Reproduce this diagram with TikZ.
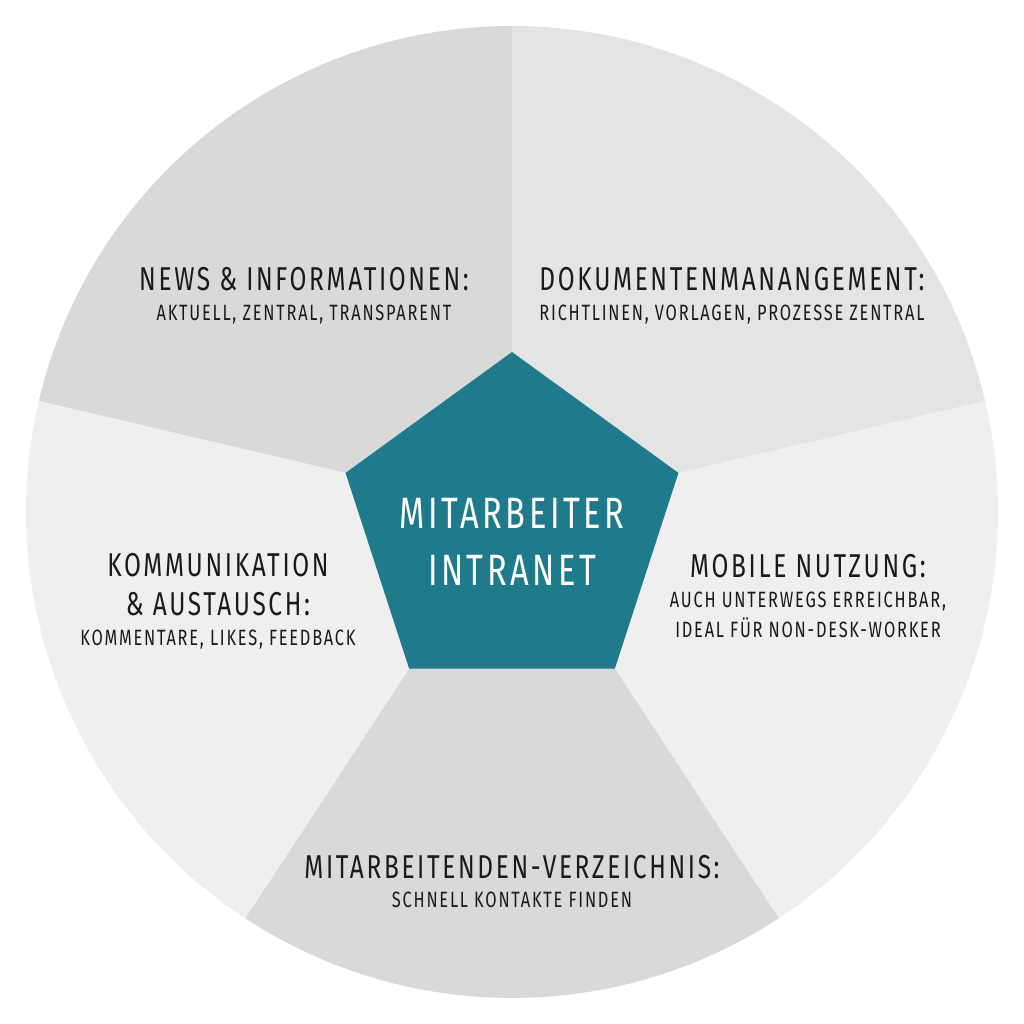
\documentclass[tikz,border=0pt]{standalone}
\usepackage{fontspec}
\usepackage{tikz}
\usetikzlibrary{shapes.geometric, calc}

\newfontfamily\labelfont[FakeStretch=0.74, LetterSpace=8]{Fira Sans}

\definecolor{sliceDark}{HTML}{D9D9D9}
\definecolor{sliceMid}{HTML}{E4E4E4}
\definecolor{sliceLight}{HTML}{EFEFEF}
\definecolor{hubTeal}{HTML}{1F7A8C}
\definecolor{inkText}{HTML}{1A1A1A}

\tikzset{
	topic/.style = {align=center, text=inkText, inner sep=0pt,
		font=\labelfont\fontsize{9.4}{11}\selectfont},
	hub/.style = {regular polygon, regular polygon sides=5, minimum size=3.5cm,
		inner sep=0pt, fill=hubTeal},
	hubtext/.style = {align=center, text=white, inner sep=0pt,
		font=\labelfont\fontsize{12.5}{16.2}\selectfont}
}

\newcommand{\subsize}{\fontsize{6.3}{8}\selectfont}

\begin{document}
\begin{tikzpicture}
\useasboundingbox (-5.12, -5.12) rectangle (5.12, 5.12);

% slices
\fill[color = sliceDark]
	(0, 0) -- (90:4.86) arc[start angle=90, end angle=166.8, radius=4.86] -- cycle;
\fill[color = sliceMid]
	(0, 0) -- (13.2:4.86) arc[start angle=13.2, end angle=90, radius=4.86] -- cycle;
\fill[color = sliceLight]
	(0, 0) -- (-56.7:4.86) arc[start angle=-56.7, end angle=13.2, radius=4.86] -- cycle;
\fill[color = sliceDark]
	(0, 0) -- (-123.3:4.86) arc[start angle=-123.3, end angle=-56.7, radius=4.86] -- cycle;
\fill[color = sliceLight]
	(0, 0) -- (166.8:4.86) arc[start angle=166.8, end angle=236.7, radius=4.86] -- cycle;

% centre
\node[hub] (hub) at (0, -0.15) {};
\node[hubtext] (hubtxt) at (0, -0.3) {MITARBEITER\\INTRANET};

% topics
\node[topic] (news) at (-2.08, 2.165)
	{NEWS \& INFORMATIONEN:\\[-2.5pt]
	 \subsize AKTUELL, ZENTRAL, TRANSPARENT};
\node[topic] (docs) at (2.2, 2.165)
	{DOKUMENTENMANANGEMENT:\\[-2.5pt]
	 \subsize RICHTLINEN, VORLAGEN, PROZESSE ZENTRAL};
\node[topic] (talk) at (-2.94, -0.89)
	{KOMMUNIKATION\\\& AUSTAUSCH:\\[-2.5pt]
	 \subsize KOMMENTARE, LIKES, FEEDBACK};
\node[topic] (mobile) at (2.96, -0.84)
	{MOBILE NUTZUNG:\\[-2.5pt]
	 \subsize AUCH UNTERWEGS ERREICHBAR,\\[-2.5pt]\subsize IDEAL FÜR NON-DESK-WORKER};
\node[topic] (staff) at (0, -3.695)
	{MITARBEITENDEN-VERZEICHNIS:\\[-2.5pt]
	 \subsize SCHNELL KONTAKTE FINDEN};
\end{tikzpicture}
\end{document}
